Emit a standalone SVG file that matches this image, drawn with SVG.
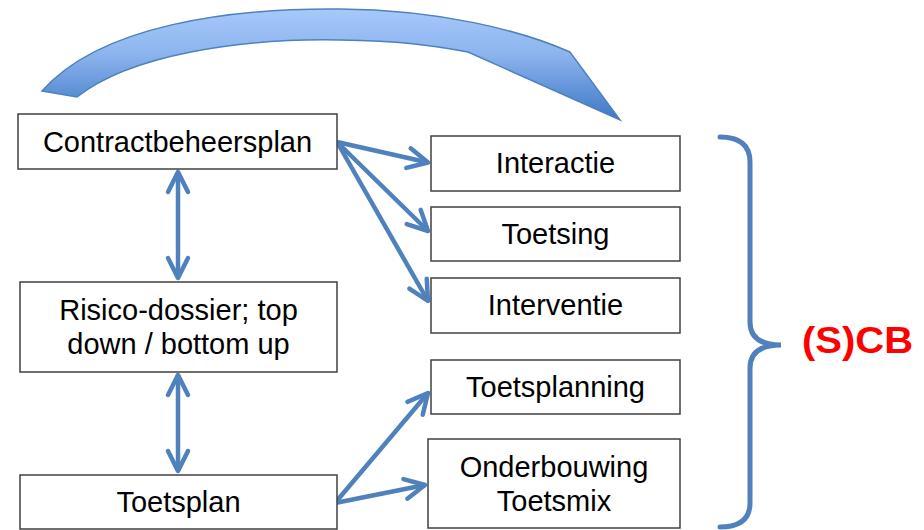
<svg xmlns="http://www.w3.org/2000/svg" width="924" height="530" viewBox="0 0 924 530">
  <style>
    .box { fill: #ffffff; stroke: #404040; stroke-width: 1.5; }
    .lbl { font-family: "Liberation Sans", Arial, sans-serif; font-size: 29px; fill: #000000; text-anchor: middle; }
    .conn { stroke: #4f81bd; stroke-width: 4.5; fill: none; }
    .brace { stroke: #4f81bd; stroke-width: 5; fill: none; stroke-linecap: round; }
    .scb { font-family: "Liberation Sans", Arial, sans-serif; font-size: 36px; font-weight: bold; fill: #ff0000; }
  </style>
  <defs>
    <marker id="chev" markerUnits="userSpaceOnUse" viewBox="-25 -15 30 30" markerWidth="30" markerHeight="30" refX="0" refY="0" orient="auto-start-reverse" overflow="visible">
      <path d="M-20,-10 L0,0 L-20,10" fill="none" stroke="#4f81bd" stroke-width="4.5" stroke-linecap="round" stroke-linejoin="round"/>
    </marker>
    <linearGradient id="arcGrad" gradientUnits="userSpaceOnUse" x1="0" y1="9" x2="0" y2="120">
      <stop offset="0" stop-color="#a6c9fa"/>
      <stop offset="0.4" stop-color="#8db4ee"/>
      <stop offset="1" stop-color="#3e78c6"/>
    </linearGradient>
  </defs>

  <g id="curved-arrow">
    <path d="M42,91 C100,25 230,8 340,9 C440,10 520,30 570,52 L620,120 L468,52 C430,45 400,41 340,40 C240,38 130,55 77,97 Z" fill="url(#arcGrad)" stroke="#4f81bd" stroke-width="1.5" stroke-linejoin="miter"/>
  </g>

  <g id="connectors">
    <line class="conn" x1="337" y1="142" x2="428" y2="162.5" marker-end="url(#chev)"/>
    <line class="conn" x1="337" y1="142" x2="428" y2="231" marker-end="url(#chev)"/>
    <line class="conn" x1="337" y1="142" x2="428" y2="301" marker-end="url(#chev)"/>
    <line class="conn" x1="335" y1="503" x2="428" y2="393" marker-end="url(#chev)"/>
    <line class="conn" x1="335" y1="503" x2="425" y2="485" marker-end="url(#chev)"/>
    <line class="conn" x1="178" y1="172" x2="178" y2="278" marker-start="url(#chev)" marker-end="url(#chev)"/>
    <line class="conn" x1="178" y1="375" x2="178" y2="471" marker-start="url(#chev)" marker-end="url(#chev)"/>
  </g>

  <g id="node-contractbeheersplan">
    <rect class="box" x="18" y="114" width="319" height="55"/>
    <text class="lbl" x="177.5" y="152">Contractbeheersplan</text>
  </g>
  <g id="node-risico">
    <rect class="box" x="20" y="282" width="317" height="90"/>
    <text class="lbl" x="178.5" y="320">Risico-dossier; top</text>
    <text class="lbl" x="178.5" y="354">down / bottom up</text>
  </g>
  <g id="node-toetsplan">
    <rect class="box" x="20" y="475" width="317" height="54"/>
    <text class="lbl" x="178.5" y="512">Toetsplan</text>
  </g>
  <g id="node-interactie">
    <rect class="box" x="431" y="136" width="249" height="55"/>
    <text class="lbl" x="555.5" y="173">Interactie</text>
  </g>
  <g id="node-toetsing">
    <rect class="box" x="431" y="207" width="249" height="54"/>
    <text class="lbl" x="555.5" y="244">Toetsing</text>
  </g>
  <g id="node-interventie">
    <rect class="box" x="431" y="278" width="249" height="55"/>
    <text class="lbl" x="555.5" y="315">Interventie</text>
  </g>
  <g id="node-toetsplanning">
    <rect class="box" x="431" y="360" width="249" height="54"/>
    <text class="lbl" x="555.5" y="397">Toetsplanning</text>
  </g>
  <g id="node-onderbouwing">
    <rect class="box" x="428" y="439" width="252" height="89"/>
    <text class="lbl" x="554" y="477">Onderbouwing</text>
    <text class="lbl" x="554" y="511">Toetsmix</text>
  </g>

  <g id="brace-scb">
    <path class="brace" d="M720,137 Q750,137 750,162 L750,322 Q750,345 781,345 Q750,345 750,368 L750,503 Q750,527 720,527"/>
    <text class="scb" x="802" y="353" textLength="111" lengthAdjust="spacingAndGlyphs">(S)CB</text>
  </g>
</svg>
